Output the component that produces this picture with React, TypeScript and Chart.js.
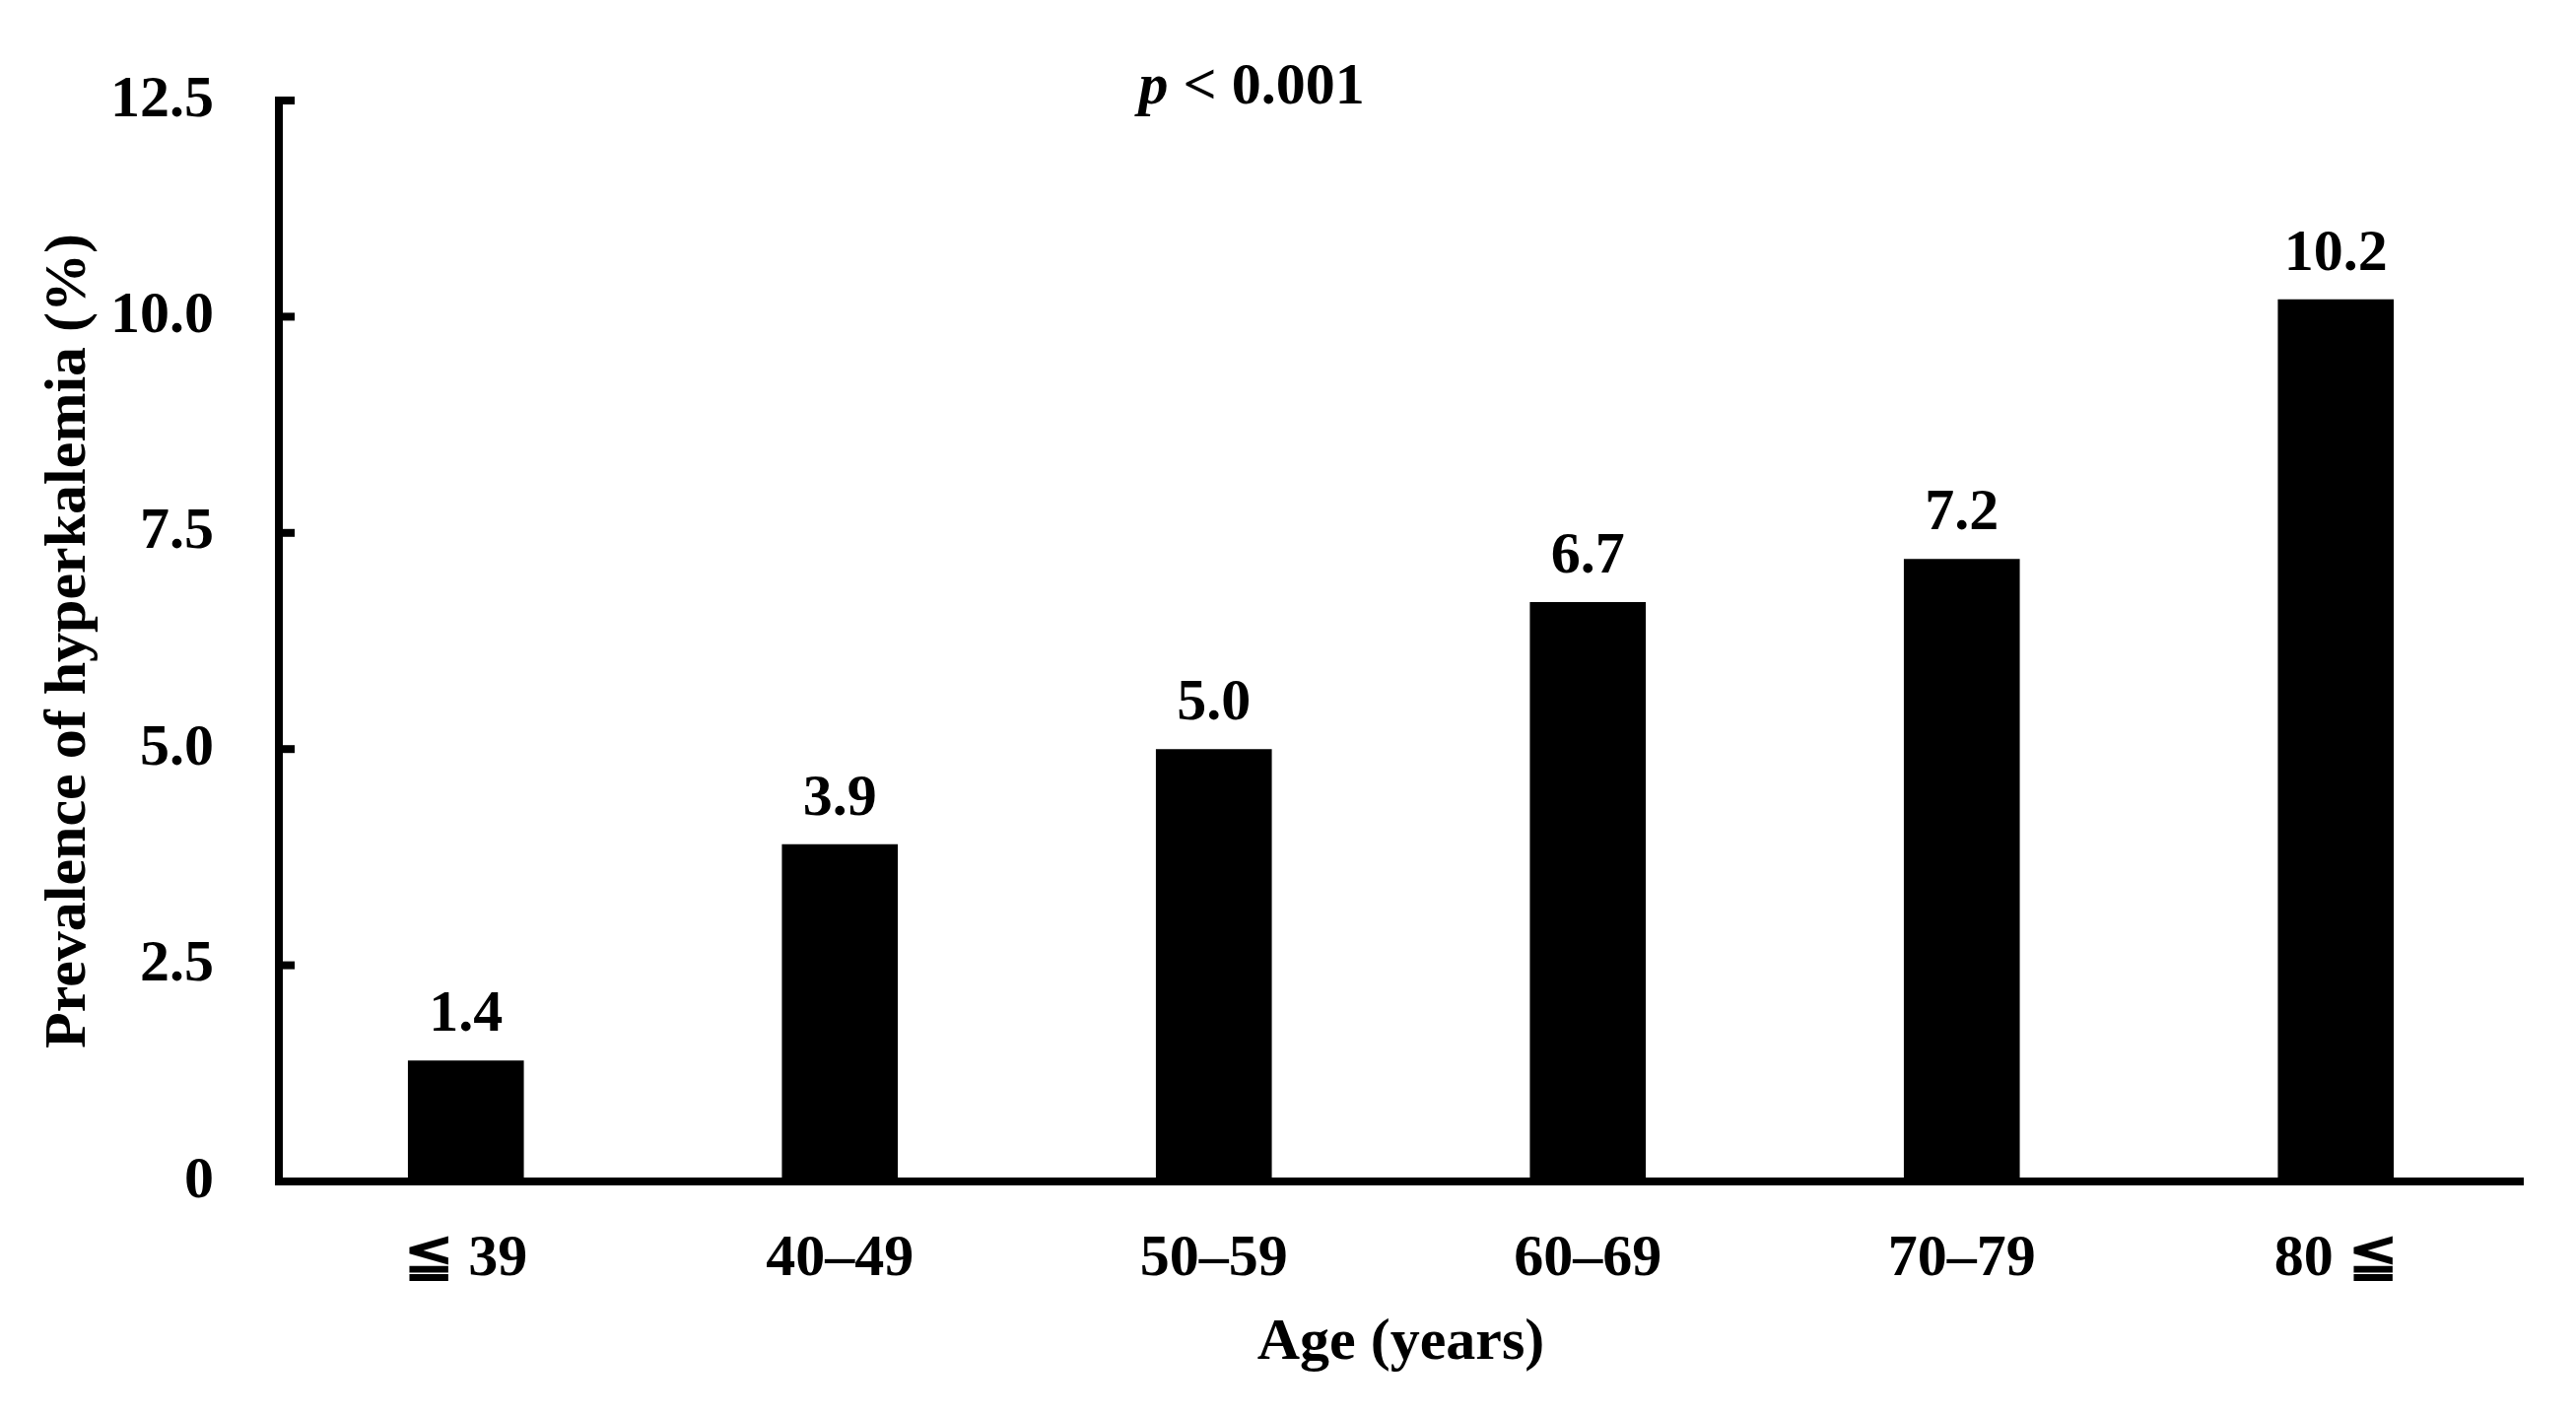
import React, { useEffect, useRef } from "react";
import { Chart, registerables } from "chart.js";

Chart.register(...registerables);

const categories = ["≦ 39", "40–49", "50–59", "60–69", "70–79", "80 ≦"];
const prevalence = [1.4, 3.9, 5.0, 6.7, 7.2, 10.2];
const yTickValues = [0, 2.5, 5.0, 7.5, 10.0, 12.5];
const yTitle = "Prevalence of hyperkalemia (%)";
const xTitle = "Age (years)";
const pSymbol = "p";
const pRest = " < 0.001";

const FONT = '"Liberation Serif", "Times New Roman", Times, serif';
const FS = 60;

const W = 2614;
const H = 1436;

const insideTicks = {
  id: "insideTicks",
  afterDraw(chart: any) {
    const { ctx, chartArea, scales } = chart;
    const y = scales.y;
    ctx.save();
    ctx.fillStyle = "#000";
    yTickValues.forEach((v) => {
      const py = y.getPixelForValue(v);
      ctx.fillRect(chartArea.left - 4, py - 4, 20, 8);
    });
    ctx.restore();
  },
};

const valueLabels = {
  id: "valueLabels",
  afterDatasetsDraw(chart: any) {
    const { ctx } = chart;
    const meta = chart.getDatasetMeta(0);
    ctx.save();
    ctx.fillStyle = "#000";
    ctx.font = `bold ${FS}px ${FONT}`;
    ctx.textAlign = "center";
    ctx.textBaseline = "alphabetic";
    meta.data.forEach((bar: any, i: number) => {
      ctx.fillText(prevalence[i].toFixed(1), bar.x, bar.y - 30);
    });
    ctx.restore();
  },
};

const pTitle = {
  id: "pTitle",
  afterDraw(chart: any) {
    const { ctx, chartArea } = chart;
    const cx = chartArea.left + (chartArea.right - chartArea.left) * 0.4335;
    const baseY = chartArea.top + 3;
    ctx.save();
    ctx.fillStyle = "#000";
    ctx.textBaseline = "alphabetic";
    ctx.textAlign = "left";
    ctx.font = `italic bold ${FS}px ${FONT}`;
    const w1 = ctx.measureText(pSymbol).width;
    ctx.font = `bold ${FS}px ${FONT}`;
    const w2 = ctx.measureText(pRest).width;
    const start = cx - (w1 + w2) / 2;
    ctx.font = `italic bold ${FS}px ${FONT}`;
    ctx.fillText(pSymbol, start, baseY);
    ctx.font = `bold ${FS}px ${FONT}`;
    ctx.fillText(pRest, start + w1, baseY);
    ctx.restore();
  },
};

export default function App() {
  const ref = useRef<HTMLCanvasElement | null>(null);

  useEffect(() => {
    document.body.style.margin = "0";
    const canvas = ref.current;
    if (!canvas) return;
    const chart = new Chart(canvas, {
      type: "bar",
      data: {
        labels: categories,
        datasets: [
          {
            data: prevalence,
            backgroundColor: "#000",
            borderWidth: 0,
            categoryPercentage: 1,
            barPercentage: 0.31,
          },
        ],
      },
      options: {
        responsive: false,
        animation: false,
        devicePixelRatio: 1,
        layout: { padding: { top: 97, right: 54, bottom: 0, left: 0 } },
        plugins: {
          legend: { display: false },
          tooltip: { enabled: false },
          title: { display: false },
        },
        scales: {
          x: {
            grid: { display: false, drawTicks: false },
            border: { display: true, color: "#000", width: 8 },
            ticks: {
              color: "#000",
              padding: 43,
              font: { family: FONT, size: FS, weight: "bold" },
            },
            title: {
              display: true,
              text: xTitle,
              color: "#000",
              font: { family: FONT, size: FS, weight: "bold", lineHeight: 1.2 },
              padding: { top: 0, bottom: 37 },
            },
            afterFit(scale: any) {
              scale.height = 237;
            },
          },
          y: {
            min: 0,
            max: 12.5,
            grid: { display: false, drawTicks: false },
            border: { display: true, color: "#000", width: 8 },
            afterBuildTicks(scale: any) {
              scale.ticks = yTickValues.map((v) => ({ value: v }));
            },
            ticks: {
              color: "#000",
              padding: 66,
              font: { family: FONT, size: FS, weight: "bold" },
              callback: (v: any) => (Number(v) === 0 ? "0" : Number(v).toFixed(1)),
            },
            title: {
              display: true,
              text: yTitle,
              color: "#000",
              font: { family: FONT, size: FS, weight: "bold", lineHeight: 1.2 },
              padding: { top: 34, bottom: 0 },
            },
            afterFit(scale: any) {
              scale.width = 283;
            },
          },
        },
      },
      plugins: [valueLabels, insideTicks, pTitle],
    });
    return () => chart.destroy();
  }, []);

  return (
    <div style={{ width: W, height: H, background: "#fff" }}>
      <canvas ref={ref} width={W} height={H} style={{ display: "block", width: W, height: H }} />
    </div>
  );
}
